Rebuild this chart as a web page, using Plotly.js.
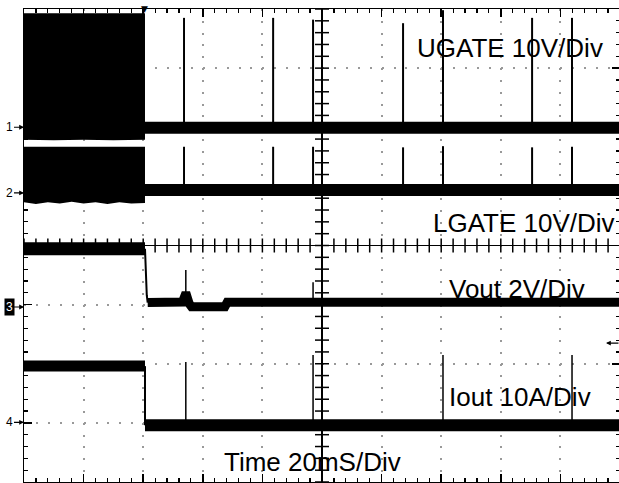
<!DOCTYPE html>
<html><head><meta charset="utf-8">
<script src="https://cdn.plot.ly/plotly-3.0.1.min.js"></script>
<style>html,body{margin:0;padding:0;overflow:hidden;background:#fff}#chart{width:620px;height:483px}</style>
</head><body><div id="chart"></div>
<script>
// ---- time base: ms, 20 ms/div, screen centre = 0 ----
const trigTime = -59.4;
const gateSpikeT = [-46.3, -16.4, -3.0, 27.2, 40.6, 70.5, 83.9];

// ---- channel settings (ground marker position in divisions, volts or amps per div) ----
const chOffset = [2.0, 0.89, -1.04, -2.99];
const chScale  = [10, 10, 2, 10];
const chLabels = ["1", "2", "3", "4"];

// ---- CH1 UGATE (V) ----
const ugBurstT = [-100, -59.4];
const ugBurstHigh = [19.3, 19.3];
const ugBurstLowT = [-100, -90, -80, -70, -59.4];
const ugBurstLow = [-2.1, -2.2, -2.1, -2.2, -2.1];
const ugAfterT = [-59.4, 100];
const ugAfterV = [-0.1, -0.1];
const ugSpikeV = [18.5, 18.5, 18.2, 17.6, 19.8, 18.5, 18.5];

// ---- CH2 LGATE (V) ----
const lgBurstT = [-100, -59.4];
const lgBurstHigh = [7.8, 7.8];
const lgBurstLowT = [-100, -96, -92, -88, -84, -80, -76, -72, -68, -64, -59.4];
const lgBurstLow = [-1.6, -1.9, -1.6, -1.8, -1.5, -1.8, -1.6, -1.9, -1.6, -1.8, -1.7];
const lgAfterT = [-59.4, 100];
const lgAfterV = [0.5, 0.5];
const lgSpikeV = [7.8, 7.8, 7.8, 7.7, 7.9, 7.7, 7.8];

// ---- CH3 Vout (V) ----
const voBeforeT = [-100, -59.4];
const voBeforeV = [1.97, 1.97];
const voEdgeT = [-59.4, -59.2, -58.8, -58.5];
const voEdgeV = [1.97, 1.2, 0.4, 0.15];
const voAfterT = [-58.5, -46.8, -46.0, -45.4, -44.6, -43.8, -32.6, -31.8, 100];
const voAfterV = [0.15, 0.17, 0.38, 0.38, 0.12, 0.01, 0.01, 0.16, 0.16];
const voSpikeT = [-45.7, -3.0];
const voSpikeBase = [0.38, 0.16];
const voSpikeV = [1.25, 0.84];

// ---- CH4 Iout (A) ----
const ioBeforeT = [-100, -59.4];
const ioBeforeA = [9.5, 9.5];
const ioAfterT = [-59.4, 100];
const ioAfterA = [-0.5, -0.5];
const ioSpikeT = [-45.7, -3.0, 40.6, 83.9];
const ioSpikeA = [10.2, 11.4, 11.4, 11.4];

const div = (v, c) => chOffset[c] + v / chScale[c];
const toDiv = (arr, c) => arr.map(v => div(v, c));

function burst(T, hi, lowT, lo, c) {
  return {x: T.concat(lowT.slice().reverse()), y: toDiv(hi, c).concat(toDiv(lo, c).reverse()),
    fill: 'toself', fillcolor: '#000', line: {width: 0}, mode: 'lines', hoverinfo: 'skip', showlegend: false};
}
function band(T, V, c, w) {
  return {x: T, y: toDiv(V, c), mode: 'lines', line: {color: '#000', width: w}, hoverinfo: 'skip', showlegend: false};
}
function spikes(T, base, peak, c, w) {
  const x = [], y = [];
  T.forEach((t, i) => { x.push(t, t, null); y.push(div(base[i], c), div(peak[i], c), null); });
  return {x, y, mode: 'lines', line: {color: '#000', width: w}, hoverinfo: 'skip', showlegend: false};
}
const rep = (v, n) => new Array(n).fill(v);

const traces = [
  burst(ugBurstT, ugBurstHigh, ugBurstLowT, ugBurstLow, 0),
  band(ugAfterT, ugAfterV, 0, 12),
  spikes(gateSpikeT, rep(ugAfterV[0], gateSpikeT.length), ugSpikeV, 0, 2),
  burst(lgBurstT, lgBurstHigh, lgBurstLowT, lgBurstLow, 1),
  band(lgAfterT, lgAfterV, 1, 12),
  spikes(gateSpikeT, rep(lgAfterV[0], gateSpikeT.length), lgSpikeV, 1, 2),
  band(voBeforeT, voBeforeV, 2, 13),
  band(voEdgeT, voEdgeV, 2, 2),
  band(voAfterT, voAfterV, 2, 9),
  spikes(voSpikeT, voSpikeBase, voSpikeV, 2, 1.5),
  band(ioBeforeT, ioBeforeA, 3, 11),
  {x: [trigTime, trigTime], y: [div(ioBeforeA[1], 3), div(ioAfterA[0], 3)], mode: 'lines', line: {color: '#000', width: 2}, hoverinfo: 'skip', showlegend: false},
  band(ioAfterT, ioAfterA, 3, 12),
  spikes(ioSpikeT, rep(ioAfterA[0], ioSpikeT.length), ioSpikeA, 3, 1.5)
];

// centre graticule tick marks (0.2 div)
const cx = [], cy = [];
for (let i = -25; i <= 25; i++) cx.push(i * 4);
for (let i = -20; i <= 20; i++) cy.push(i * 0.2);
traces.push({x: cx, y: rep(0, cx.length), mode: 'markers', marker: {symbol: 'line-ns', size: 10, line: {width: 1.5, color: '#000'}}, hoverinfo: 'skip', showlegend: false, cliponaxis: false});
traces.push({x: rep(0, cy.length), y: cy, mode: 'markers', marker: {symbol: 'line-ew', size: 10, line: {width: 1.5, color: '#000'}}, hoverinfo: 'skip', showlegend: false, cliponaxis: false});

const font = 'Liberation Sans, Arial, sans-serif';
const labels = [
  {text: 'UGATE 10V/Div', x: 31.5, y: 3.34},
  {text: 'LGATE 10V/Div', x: 36.9, y: 0.38},
  {text: 'Vout 2V/Div', x: 42.3, y: -0.74},
  {text: 'Iout 10A/Div', x: 42.3, y: -2.57},
  {text: 'Time 20mS/Div', x: -33.2, y: -3.67}
];
const annotations = labels.map(l => ({text: l.text, x: l.x, y: l.y, xref: 'x', yref: 'y', xanchor: 'left', yanchor: 'middle',
  showarrow: false, font: {family: font, size: 26, color: '#000'}, borderpad: 0}));
chLabels.forEach((t, i) => {
  annotations.push({text: t, xref: 'paper', x: 0, yref: 'y', y: chOffset[i], showarrow: true, ax: -15, ay: 0,
    arrowhead: 2, arrowsize: 0.8, arrowwidth: 1.2, arrowcolor: '#000',
    font: {family: font, size: 12, color: i === 2 ? '#fff' : '#000'}, bgcolor: i === 2 ? '#000' : 'rgba(0,0,0,0)', borderpad: 1});
});
annotations.push({text: '', x: 95.3, y: -1.65, xref: 'x', yref: 'y', showarrow: true, ax: 14, ay: 0,
  arrowhead: 2, arrowsize: 0.8, arrowwidth: 1.2, arrowcolor: '#000'});
annotations.push({text: '▼', x: trigTime, y: 4, xref: 'x', yref: 'y', yanchor: 'middle', showarrow: false,
  font: {family: 'DejaVu Sans', size: 9, color: '#000'}});

const axisCommon = {
  showticklabels: false, showline: true, linecolor: '#000', linewidth: 1.5, mirror: 'ticks',
  ticks: 'inside', ticklen: 8, tickwidth: 1.5, tickcolor: '#000',
  showgrid: true, gridcolor: '#999', gridwidth: 2,
  zeroline: true, zerolinecolor: '#000', zerolinewidth: 1.5, fixedrange: true,
  minor: {ticks: 'inside', ticklen: 4, tickwidth: 1.2, tickcolor: '#000', showgrid: false}
};
const layout = {
  width: 620, height: 483, margin: {l: 24, r: 0, t: 9, b: 1},
  paper_bgcolor: '#fff', plot_bgcolor: '#fff', showlegend: false,
  xaxis: Object.assign({}, axisCommon, {range: [-100, 100], tick0: 0, dtick: 20, griddash: '2px,9.82px',
    minor: Object.assign({}, axisCommon.minor, {dtick: 4})}),
  yaxis: Object.assign({}, axisCommon, {range: [-4, 4], tick0: 0, dtick: 1, griddash: '2px,9.92px',
    minor: Object.assign({}, axisCommon.minor, {dtick: 0.2})}),
  annotations
};
Plotly.newPlot('chart', traces, layout, {staticPlot: true, displayModeBar: false});
</script></body></html>
